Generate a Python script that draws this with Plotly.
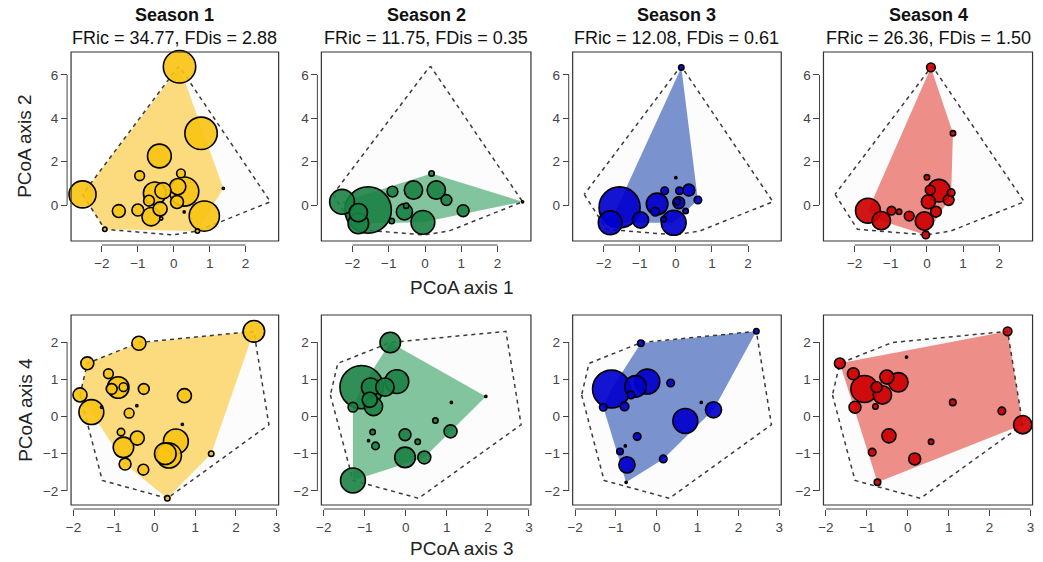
import plotly.graph_objects as go

# ---------------- data ----------------
seasons = ["Season 1", "Season 2", "Season 3", "Season 4"]
fric = [34.77, 11.75, 12.08, 26.36]
fdis = [2.88, 0.35, 0.61, 1.50]

# PCoA axis 1 / axis 2 (species coordinates) and relative abundance (symbol size)
s1_pc1 = [0.16, 0.76, -0.40, -2.54, -0.95, 0.20, 0.29, 0.11, -0.53, -0.30, -0.69, -1.53, -1.00, -0.63, -0.38, 0.09, 0.85, -1.92, 0.66, -0.35, 0.29, 1.38]
s1_pc2 = [6.38, 3.31, 2.26, 0.49, 1.35, 1.46, 0.62, 0.85, 0.54, 0.66, 0.20, -0.28, -0.23, -0.54, -0.18, 0.14, -0.51, -1.12, -1.20, -0.62, -0.32, 0.77]
s1_ab12 = [30, 30, 22, 25, 9, 8, 27, 15, 21, 15, 10, 12, 11, 17, 13, 12, 28, 4, 4, 3, 2, 2]

s2_pc1 = [-2.29, -1.57, -1.84, -1.84, -0.90, -0.32, 0.31, 0.18, 0.59, -0.57, -0.06, 1.05, -0.92, -0.52, 2.69]
s2_pc2 = [0.15, -0.23, -0.35, -0.85, 0.62, 0.69, 0.69, 1.46, 0.23, -0.31, -0.80, -0.26, -0.74, -0.03, 0.15]
s2_ab12 = [23, 43, 17, 19, 10, 17, 17, 5, 10, 15, 22, 11, 5, 5, 2]

s3_pc1 = [0.15, -1.56, -1.82, -0.98, -0.52, -0.06, 0.08, 0.03, -0.31, 0.10, 0.36, 0.61, 0.27, -0.57, -0.34, 0.00]
s3_pc2 = [6.35, -0.11, -0.82, -0.69, 0.05, -0.82, 0.11, 0.15, 0.66, 0.66, 0.69, 0.23, -0.28, -0.31, -0.66, 1.26]
s3_ab12 = [5, 38, 22, 15, 20, 23, 11, 6, 7, 7, 11, 7, 5, 8, 5, 2]

s4_pc1 = [0.11, 0.72, -1.63, -1.26, -0.98, -0.77, -0.49, -0.07, -0.03, 0.25, 0.04, 0.33, 0.09, 0.60, 0.67, 0.00]
s4_pc2 = [6.35, 3.31, -0.26, -0.72, -0.26, -0.31, -0.51, -0.74, -1.38, -0.31, 0.15, 0.66, 0.69, 0.23, 0.57, 1.28]
s4_ab12 = [8, 5, 23, 17, 8, 5, 9, 17, 7, 10, 13, 21, 9, 10, 7, 5]

# PCoA axis 3 / axis 4
s1_pc3 = [2.44, -0.39, -1.66, -1.84, -1.56, -1.14, -0.90, -1.06, -0.77, -0.27, 0.73, -0.63, -0.83, -0.43, -0.77, -0.73, -0.28, 0.52, 0.26, 0.35, 1.39, 0.31, -0.44, 0.68, -1.31]
s1_pc4 = [2.29, 1.97, 1.43, 0.58, 0.12, 1.15, 0.78, 0.74, 0.79, 0.74, 0.56, 0.09, -0.42, -0.58, -0.83, -1.28, -1.43, -0.67, -1.00, -1.05, -1.00, -2.20, 0.29, -0.21, 0.25]
s1_ab34 = [20, 13, 12, 13, 23, 9, 20, 10, 8, 10, 13, 9, 7, 13, 19, 11, 10, 23, 20, 23, 5, 5, 2, 2, 2]

s2_pc3 = [-0.38, -1.08, -0.86, -0.51, -0.22, -0.79, -0.88, -1.29, -0.81, -0.74, -0.02, 0.29, 0.72, 1.09, -0.02, 0.45, -1.29, 1.95, 1.11, -0.91]
s2_pc4 = [1.99, 0.79, 0.79, 0.79, 0.94, 0.27, 0.45, 0.25, -0.42, -0.79, -0.49, -0.68, -0.11, -0.40, -1.10, -1.10, -1.72, 0.54, 0.38, -0.65]
s2_ab34 = [19, 40, 17, 17, 22, 17, 14, 9, 5, 7, 11, 5, 5, 12, 19, 12, 23, 2, 2, 2]

s3_pc3 = [2.44, -0.39, -1.11, -0.23, -0.52, -0.63, 0.34, -1.31, -0.79, 0.70, 1.39, -0.48, -0.90, -0.73, 0.16, -0.77, 1.09, -0.75]
s3_pc4 = [2.29, 1.97, 0.74, 0.94, 0.81, 0.58, 0.90, 0.25, 0.27, -0.12, 0.18, -0.54, -0.94, -1.30, -1.14, -0.79, 0.38, -1.77]
s3_ab34 = [5, 6, 35, 23, 20, 7, 7, 7, 8, 23, 15, 7, 6, 15, 7, 2, 2, 2]

s4_pc3 = [2.44, -1.66, -1.33, -1.06, -0.76, -0.62, -0.51, -0.23, -1.29, -0.79, -0.46, -0.87, 0.17, 0.57, 1.10, 2.30, 2.81, -0.74, -0.03]
s4_pc4 = [2.29, 1.43, 1.15, 0.74, 0.79, 0.58, 1.06, 0.92, 0.25, 0.27, -0.52, -0.96, -1.14, -0.68, 0.38, 0.15, -0.22, -1.77, 1.60]
s4_ab34 = [8, 10, 11, 25, 10, 17, 13, 18, 11, 5, 13, 7, 11, 5, 6, 7, 17, 6, 2]

top_x = [s1_pc1, s2_pc1, s3_pc1, s4_pc1]
top_y = [s1_pc2, s2_pc2, s3_pc2, s4_pc2]
top_s = [s1_ab12, s2_ab12, s3_ab12, s4_ab12]
bot_x = [s1_pc3, s2_pc3, s3_pc3, s4_pc3]
bot_y = [s1_pc4, s2_pc4, s3_pc4, s4_pc4]
bot_s = [s1_ab34, s2_ab34, s3_ab34, s4_ab34]

top_xticks = [-2, -1, 0, 1, 2]
top_yticks = [0, 2, 4, 6]
bot_xticks = [-2, -1, 0, 1, 2, 3]
bot_yticks = [-2, -1, 0, 1, 2]

# ---------------- style ----------------
hull_fill = ["#FCDB7F", "#82C49D", "#7A92CE", "#EE8E88"]
point_col = ["rgba(248,195,19,0.9)", "rgba(26,130,68,0.9)", "rgba(0,0,205,0.92)", "rgba(205,0,0,0.92)"]
SIZE_SCALE = 1.08
FONT = "Liberation Sans, Arial, sans-serif"
W, H = 1043, 562


def hull(xs, ys):
    pts = sorted(set(zip(xs, ys)))

    def cross(o, a, b):
        return (a[0] - o[0]) * (b[1] - o[1]) - (a[1] - o[1]) * (b[0] - o[0])

    lower, upper = [], []
    for p in pts:
        while len(lower) >= 2 and cross(lower[-2], lower[-1], p) <= 0:
            lower.pop()
        lower.append(p)
    for p in reversed(pts):
        while len(upper) >= 2 and cross(upper[-2], upper[-1], p) <= 0:
            upper.pop()
        upper.append(p)
    h = lower[:-1] + upper[:-1]
    h.append(h[0])
    return [p[0] for p in h], [p[1] for p in h]


def px_x(p):
    return p / W


def px_y(p):
    return 1 - p / H


x_doms = [(66.5, 275.5), (318.5, 529.5), (571.5, 781.5), (824, 1034.5)]
row_ydom = [(241, 52), (505, 315)]
row_xrange = [[-2.86, 2.92], [-2.06, 3.05]]
row_yrange = [[-1.66, 7.06], [-2.38, 2.73]]

fig = go.Figure()
shapes = []
layout_axes = {}

for row in range(2):
    xs_all = top_x if row == 0 else bot_x
    ys_all = top_y if row == 0 else bot_y
    ss_all = top_s if row == 0 else bot_s
    xt = top_xticks if row == 0 else bot_xticks
    yt = top_yticks if row == 0 else bot_yticks
    ux = [v for lst in xs_all for v in lst]
    uy = [v for lst in ys_all for v in lst]
    gx, gy = hull(ux, uy)
    for c in range(4):
        n = row * 4 + c + 1
        xa = "x" if n == 1 else f"x{n}"
        ya = "y" if n == 1 else f"y{n}"
        # global hull background
        fig.add_trace(go.Scatter(x=gx, y=gy, mode="lines", fill="toself",
                                 fillcolor="rgba(0,0,0,0.013)", line=dict(width=0),
                                 xaxis=xa, yaxis=ya, hoverinfo="skip", showlegend=False))
        # season hull
        hx, hy = hull(xs_all[c], ys_all[c])
        fig.add_trace(go.Scatter(x=hx, y=hy, mode="lines", fill="toself",
                                 fillcolor=hull_fill[c], line=dict(width=0),
                                 xaxis=xa, yaxis=ya, hoverinfo="skip", showlegend=False))
        # dashed global hull outline
        fig.add_trace(go.Scatter(x=gx, y=gy, mode="lines",
                                 line=dict(color="#3a3a3a", width=1.5, dash="4px,4px"),
                                 xaxis=xa, yaxis=ya, hoverinfo="skip", showlegend=False))
        # species points (large first)
        order = sorted(range(len(ss_all[c])), key=lambda i: -ss_all[c][i])
        fig.add_trace(go.Scatter(
            x=[xs_all[c][i] for i in order], y=[ys_all[c][i] for i in order],
            mode="markers",
            marker=dict(size=[ss_all[c][i] * SIZE_SCALE for i in order], color=point_col[c],
                        opacity=1, line=dict(color="black", width=1.6)),
            xaxis=xa, yaxis=ya, hoverinfo="skip", showlegend=False, cliponaxis=False))

        y0p, y1p = row_ydom[row]
        x0p, x1p = x_doms[c]
        xpos = px_y(y0p + 4)
        ypos = px_x(x0p - 4)
        kx = "xaxis" if n == 1 else f"xaxis{n}"
        ky = "yaxis" if n == 1 else f"yaxis{n}"
        layout_axes[kx] = dict(domain=[px_x(x0p), px_x(x1p)], range=row_xrange[row],
                               anchor="free", position=xpos, tickvals=xt,
                               ticks="outside", ticklen=6, tickcolor="#444", tickwidth=1,
                               showline=False, showgrid=False, zeroline=False,
                               tickfont=dict(size=13.5, color="#444", family=FONT), fixedrange=True)
        layout_axes[ky] = dict(domain=[px_y(y0p), px_y(y1p)], range=row_yrange[row],
                               anchor="free", position=ypos, tickvals=yt,
                               ticks="outside", ticklen=6, tickcolor="#444", tickwidth=1,
                               showline=False, showgrid=False, zeroline=False,
                               tickfont=dict(size=13.5, color="#444", family=FONT), fixedrange=True)
        # frame
        shapes.append(dict(type="rect", xref=f"{xa} domain", yref=f"{ya} domain",
                           x0=0, x1=1, y0=0, y1=1, line=dict(color="#333", width=1.2),
                           layer="above"))
        # detached axis lines
        shapes.append(dict(type="line", xref=xa, yref="paper", x0=xt[0], x1=xt[-1],
                           y0=xpos, y1=xpos, line=dict(color="#444", width=1)))
        shapes.append(dict(type="line", xref="paper", yref=ya, x0=ypos, x1=ypos,
                           y0=yt[0], y1=yt[-1], line=dict(color="#444", width=1)))

annotations = []
for c in range(4):
    cx = px_x((x_doms[c][0] + x_doms[c][1]) / 2)
    annotations.append(dict(x=cx, y=px_y(15), xref="paper", yref="paper", showarrow=False,
                            text=f"<b>{seasons[c]}</b>", font=dict(size=18, color="#111", family=FONT),
                            xanchor="center", yanchor="middle"))
    annotations.append(dict(x=cx, y=px_y(38), xref="paper", yref="paper", showarrow=False,
                            text=f"FRic = {fric[c]:.2f}, FDis = {fdis[c]:.2f}",
                            font=dict(size=18, color="#111", family=FONT),
                            xanchor="center", yanchor="middle"))

annotations += [
    dict(x=px_x(460), y=px_y(287), xref="paper", yref="paper", showarrow=False, text="PCoA axis 1",
         font=dict(size=19, color="#222", family=FONT), xanchor="center", yanchor="middle"),
    dict(x=px_x(460), y=px_y(548), xref="paper", yref="paper", showarrow=False, text="PCoA axis 3",
         font=dict(size=19, color="#222", family=FONT), xanchor="center", yanchor="middle"),
    dict(x=px_x(20), y=px_y(146), xref="paper", yref="paper", showarrow=False, text="PCoA axis 2",
         textangle=-90, font=dict(size=19, color="#222", family=FONT), xanchor="center", yanchor="middle"),
    dict(x=px_x(20), y=px_y(410), xref="paper", yref="paper", showarrow=False, text="PCoA axis 4",
         textangle=-90, font=dict(size=19, color="#222", family=FONT), xanchor="center", yanchor="middle"),
]

fig.update_layout(width=W, height=H, margin=dict(l=0, r=0, t=0, b=0),
                  paper_bgcolor="white", plot_bgcolor="white",
                  shapes=shapes, annotations=annotations, showlegend=False,
                  font=dict(family=FONT), **layout_axes)

fig.write_html("out.html", config={"displayModeBar": False, "staticPlot": True},
               post_script="document.body.style.margin='0';document.body.style.overflow='hidden';")
